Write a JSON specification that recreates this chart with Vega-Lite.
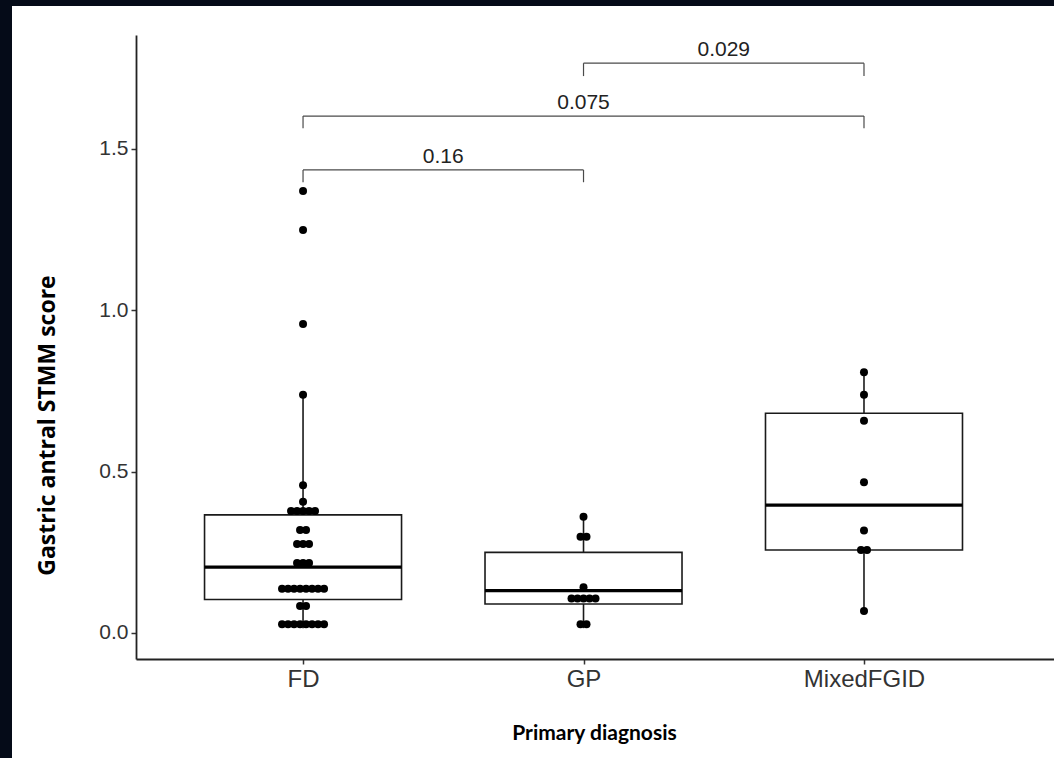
{
  "$schema": "https://vega.github.io/schema/vega-lite/v6.json",
  "width": 1042,
  "height": 752,
  "autosize": {"type": "none"},
  "padding": {"left": 12, "top": 6, "right": 0, "bottom": 0},
  "background": "#050b18",
  "config": {"view": {"fill": "white", "stroke": null}},
  "datasets": {
    "dots": [
      {"cat": "FD", "value": 1.370}, {"cat": "FD", "value": 1.249}, {"cat": "FD", "value": 0.958},
      {"cat": "FD", "value": 0.738}, {"cat": "FD", "value": 0.458}, {"cat": "FD", "value": 0.407},
      {"cat": "FD", "value": 0.378}, {"cat": "FD", "value": 0.378}, {"cat": "FD", "value": 0.378}, {"cat": "FD", "value": 0.378}, {"cat": "FD", "value": 0.378},
      {"cat": "FD", "value": 0.319}, {"cat": "FD", "value": 0.319},
      {"cat": "FD", "value": 0.276}, {"cat": "FD", "value": 0.276}, {"cat": "FD", "value": 0.276},
      {"cat": "FD", "value": 0.217}, {"cat": "FD", "value": 0.217}, {"cat": "FD", "value": 0.217},
      {"cat": "FD", "value": 0.137}, {"cat": "FD", "value": 0.137}, {"cat": "FD", "value": 0.137}, {"cat": "FD", "value": 0.137},
      {"cat": "FD", "value": 0.137}, {"cat": "FD", "value": 0.137}, {"cat": "FD", "value": 0.137}, {"cat": "FD", "value": 0.137},
      {"cat": "FD", "value": 0.084}, {"cat": "FD", "value": 0.084},
      {"cat": "FD", "value": 0.027}, {"cat": "FD", "value": 0.027}, {"cat": "FD", "value": 0.027}, {"cat": "FD", "value": 0.027},
      {"cat": "FD", "value": 0.027}, {"cat": "FD", "value": 0.027}, {"cat": "FD", "value": 0.027}, {"cat": "FD", "value": 0.027},
      {"cat": "GP", "value": 0.360}, {"cat": "GP", "value": 0.298}, {"cat": "GP", "value": 0.298},
      {"cat": "GP", "value": 0.142},
      {"cat": "GP", "value": 0.107}, {"cat": "GP", "value": 0.107}, {"cat": "GP", "value": 0.107}, {"cat": "GP", "value": 0.107}, {"cat": "GP", "value": 0.107},
      {"cat": "GP", "value": 0.027}, {"cat": "GP", "value": 0.027},
      {"cat": "MixedFGID", "value": 0.808}, {"cat": "MixedFGID", "value": 0.738}, {"cat": "MixedFGID", "value": 0.658},
      {"cat": "MixedFGID", "value": 0.467}, {"cat": "MixedFGID", "value": 0.318},
      {"cat": "MixedFGID", "value": 0.257}, {"cat": "MixedFGID", "value": 0.257}, {"cat": "MixedFGID", "value": 0.068}
    ],
    "boxes": [
      {"cat": "FD", "lower": 0.015, "q1": 0.104, "median": 0.204, "q3": 0.366, "upper": 0.738},
      {"cat": "GP", "lower": 0.015, "q1": 0.090, "median": 0.131, "q3": 0.250, "upper": 0.360},
      {"cat": "MixedFGID", "lower": 0.068, "q1": 0.257, "median": 0.396, "q3": 0.681, "upper": 0.808}
    ],
    "brackets": [
      {"cat": "FD", "cat2": "GP", "y": 1.435, "tip": 1.397},
      {"cat": "FD", "cat2": "MixedFGID", "y": 1.602, "tip": 1.564},
      {"cat": "GP", "cat2": "MixedFGID", "y": 1.766, "tip": 1.726}
    ],
    "bracketLabels": [
      {"cat": "FD-GP", "y": 1.435, "label": "0.16"},
      {"cat": "GP", "y": 1.602, "label": "0.075"},
      {"cat": "GP-MixedFGID", "y": 1.766, "label": "0.029"}
    ]
  },
  "encoding": {
    "x": {
      "field": "cat",
      "type": "nominal",
      "scale": {
        "type": "point",
        "domain": ["edgeL", "FD", "FD-GP", "GP", "GP-MixedFGID", "MixedFGID", "edgeR"],
        "range": [124, 1042],
        "padding": 0.273,
        "align": 0.35
      },
      "axis": {
        "values": ["FD", "GP", "MixedFGID"],
        "offset": -99,
        "labelAngle": 0,
        "labelFont": "Liberation Sans",
        "labelFontSize": 24,
        "labelColor": "#333333",
        "labelPadding": 3,
        "tickSize": 5,
        "tickColor": "#333333",
        "tickWidth": 1.5,
        "domainColor": "#222222",
        "domainWidth": 1.8,
        "grid": false,
        "title": "Primary diagnosis",
        "titleFont": "Lato",
        "titleFontWeight": "bold",
        "titleFontSize": 21,
        "titleColor": "#000000",
        "titleX": 582,
        "titleY": 74,
        "titleBaseline": "middle",
        "titleAlign": "center"
      }
    },
    "y": {
      "type": "quantitative",
      "scale": {"domain": [-0.0806, 1.8533], "range": [653, 29], "nice": false, "zero": false},
      "axis": {
        "values": [0, 0.5, 1, 1.5],
        "format": ".1f",
        "offset": -124,
        "labelFont": "Liberation Sans",
        "labelFontSize": 21,
        "labelColor": "#333333",
        "labelPadding": 3,
        "tickSize": 5,
        "tickColor": "#333333",
        "tickWidth": 1.5,
        "domainColor": "#222222",
        "domainWidth": 1.8,
        "grid": false,
        "title": "Gastric antral STMM score",
        "titleFont": "Open Sans",
        "titleFontWeight": "bold",
        "titleFontSize": 23,
        "titleColor": "#000000",
        "titleX": -89,
        "titleY": 419,
        "titleBaseline": "middle",
        "titleAlign": "center",
        "titleAngle": -90
      }
    }
  },
  "layer": [
    {
      "data": {"name": "boxes"},
      "mark": {"type": "rule", "color": "#1a1a1a", "strokeWidth": 1.6},
      "encoding": {"y": {"field": "lower"}, "y2": {"field": "upper"}}
    },
    {
      "data": {"name": "boxes"},
      "mark": {"type": "bar", "size": 197, "fill": "white", "stroke": "#1a1a1a", "strokeWidth": 1.6},
      "encoding": {"y": {"field": "q1"}, "y2": {"field": "q3"}}
    },
    {
      "data": {"name": "boxes"},
      "mark": {"type": "tick", "size": 197, "thickness": 3.2, "color": "#000000", "opacity": 1},
      "encoding": {"y": {"field": "median"}}
    },
    {
      "data": {"name": "dots"},
      "transform": [
        {"window": [{"op": "row_number", "as": "rank"}], "groupby": ["cat", "value"]},
        {"joinaggregate": [{"op": "count", "as": "n"}], "groupby": ["cat", "value"]},
        {"calculate": "datum.rank - (datum.n + 1) / 2", "as": "off"}
      ],
      "mark": {"type": "circle", "size": 64, "color": "#000000", "opacity": 1},
      "encoding": {
        "y": {"field": "value"},
        "xOffset": {"field": "off", "type": "quantitative", "scale": {"domain": [-1, 1], "range": [-6, 6]}}
      }
    },
    {
      "data": {"name": "brackets"},
      "mark": {"type": "rule", "color": "#4a4a4a", "strokeWidth": 1.2},
      "encoding": {"x2": {"field": "cat2"}, "y": {"field": "y"}}
    },
    {
      "data": {"name": "brackets"},
      "transform": [{"fold": ["cat", "cat2"], "as": ["end", "cat"]}],
      "mark": {"type": "rule", "color": "#4a4a4a", "strokeWidth": 1.2},
      "encoding": {"y": {"field": "y"}, "y2": {"field": "tip"}}
    },
    {
      "data": {"name": "bracketLabels"},
      "mark": {"type": "text", "font": "Liberation Sans", "fontSize": 21, "color": "#222222", "baseline": "bottom", "dy": -3},
      "encoding": {"y": {"field": "y"}, "text": {"field": "label"}}
    }
  ]
}
